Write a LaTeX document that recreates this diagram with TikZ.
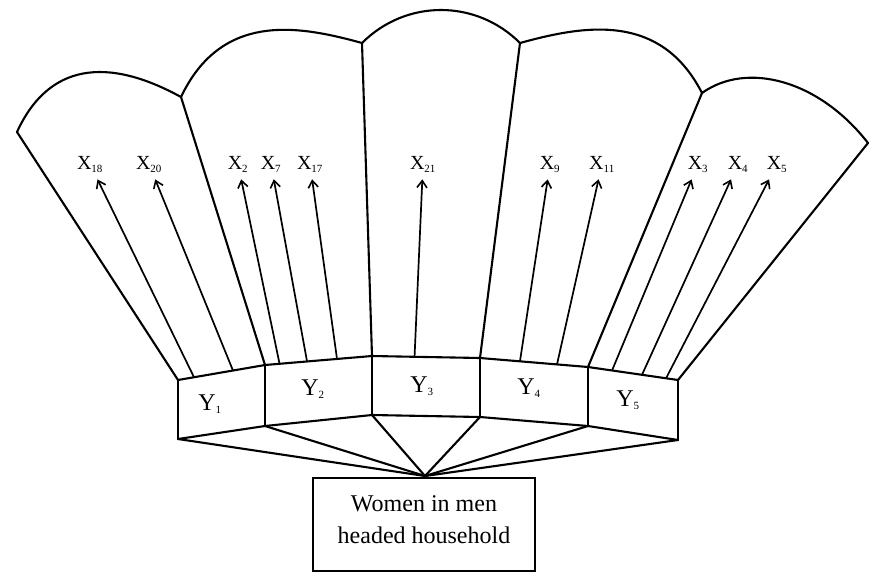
\documentclass[tikz,border=0pt]{standalone}
\usepackage{fontspec}
\setmainfont{Liberation Serif}
\usetikzlibrary{arrows.meta,calc}
% small subscript index for the variable labels
\newcommand\idx[1]{\textsubscript{\fontsize{11}{11}\selectfont #1}}
\begin{document}
\begin{tikzpicture}[x=1pt,y=-1pt,
  outline/.style={line width=2.1pt, line join=round, line cap=round},
  arr/.style={line width=1.7pt, -{Straight Barb[length=7pt,width=10pt,line width=1.6pt]}},
  xlab/.style={font=\fontsize{20}{22}\selectfont, inner xsep=1pt, inner ysep=7pt, anchor=base},
  ylab/.style={font=\fontsize{24}{28}\selectfont, inner sep=0pt, anchor=base},
  rootbox/.style={draw, line width=2.1pt, minimum width=222pt, minimum height=93pt, inner sep=0pt},
  roottext/.style={font=\fontsize{24}{32}\selectfont, align=center, inner sep=0pt},
]
\useasboundingbox (0,0) rectangle (881,576);

% corners of the five lobes
\coordinate (L0) at (17,132);
\coordinate (J1) at (181,97);
\coordinate (J2) at (362,43);
\coordinate (J3) at (520,43);
\coordinate (J4) at (702,93);
\coordinate (R0) at (868,143);

% upper edge of the Y bar
\coordinate (B0) at (178,380);
\coordinate (B1) at (265,365);
\coordinate (B2) at (372,356);
\coordinate (B3) at (480,358);
\coordinate (B4) at (588,367);
\coordinate (B5) at (678,380);

% lower edge of the Y bar
\coordinate (D0) at (178,439);
\coordinate (D1) at (265,426);
\coordinate (D2) at (372,415);
\coordinate (D3) at (480,417);
\coordinate (D4) at (588,426);
\coordinate (D5) at (678,440);

\coordinate (apex) at (425,476);

% scalloped top
\draw[outline] (L0) .. controls (48.2,63.8) and (106.5,56.1) .. (J1)
  .. controls (221.8,11.2) and (299.3,25.7) .. (J2)
  .. controls (406,-1) and (476,-1) .. (J3)
  .. controls (582.7,25.7) and (660.2,11.2) .. (J4)
  .. controls (746.8,61) and (818.9,79.9) .. (R0);

% radial dividers
\draw[outline] (L0) -- (B0);
\draw[outline] (J1) -- (B1);
\draw[outline] (J2) -- (B2);
\draw[outline] (J3) -- (B3);
\draw[outline] (J4) -- (B4);
\draw[outline] (R0) -- (B5);

% Y bar
\draw[outline] (B0) -- (B1) -- (B2) -- (B3) -- (B4) -- (B5);
\draw[outline] (D0) -- (D1) -- (D2) -- (D3) -- (D4) -- (D5);
\foreach \i in {0,...,5} {
  \draw[outline] (B\i) -- (D\i);
  \draw[outline] (D\i) -- (apex);
}

% Y labels
\node[ylab] (y1) at (210,410) {Y\idx{1}};
\node[ylab] (y2) at (313,395) {Y\idx{2}};
\node[ylab] (y3) at (422,392) {Y\idx{3}};
\node[ylab] (y4) at (529,394) {Y\idx{4}};
\node[ylab] (y5) at (628,406) {Y\idx{5}};

% root box
\node[rootbox] (root) at (424,524.5) {};
\node[roottext] (rootlabel) at (424,520) {Women in men\\headed household};

% X labels
\node[xlab] (x18) at (90,169)  {X\idx{18}};
\node[xlab] (x20) at (149,169) {X\idx{20}};
\node[xlab] (x2)  at (238,169) {X\idx{2}};
\node[xlab] (x7)  at (271,169) {X\idx{7}};
\node[xlab] (x17) at (310,169) {X\idx{17}};
\node[xlab] (x21) at (423,169) {X\idx{21}};
\node[xlab] (x9)  at (550,169) {X\idx{9}};
\node[xlab] (x11) at (602,169) {X\idx{11}};
\node[xlab] (x3)  at (698,169) {X\idx{3}};
\node[xlab] (x4)  at (738,169) {X\idx{4}};
\node[xlab] (x5)  at (777,169) {X\idx{5}};

% arrow roots on the Y bar
\coordinate (s18) at ($(B0)!0.184!(B1)$);
\coordinate (s20) at ($(B0)!0.632!(B1)$);
\coordinate (s2)  at ($(B1)!0.136!(B2)$);
\coordinate (s7)  at ($(B1)!0.393!(B2)$);
\coordinate (s17) at ($(B1)!0.673!(B2)$);
\coordinate (s21) at ($(B2)!0.394!(B3)$);
\coordinate (s9)  at ($(B3)!0.370!(B4)$);
\coordinate (s11) at ($(B3)!0.713!(B4)$);
\coordinate (s3)  at ($(B4)!0.267!(B5)$);
\coordinate (s4)  at ($(B4)!0.600!(B5)$);
\coordinate (s5)  at ($(B4)!0.867!(B5)$);

\foreach \k in {18,20,2,7,17,21,9,11,3,4,5} {
  \draw[arr] (s\k) -- (x\k);
}
\end{tikzpicture}
\end{document}
